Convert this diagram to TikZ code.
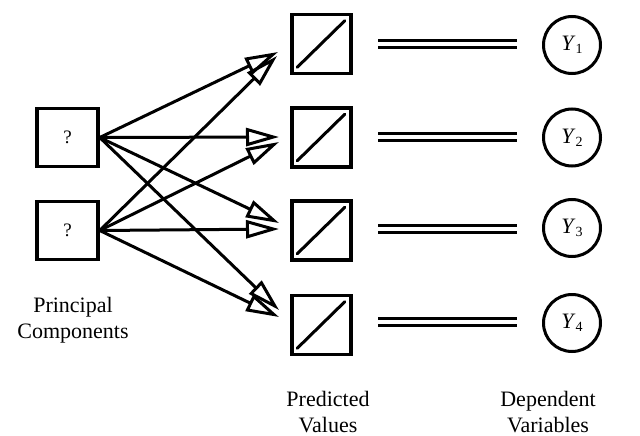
\documentclass[tikz,border=0pt]{standalone}
\usepackage{fontspec}
\setmainfont{Liberation Serif}
\usetikzlibrary{arrows.meta}
\begin{document}
\begin{tikzpicture}[x=1pt,y=-1pt,
  pcbox/.style={draw, line width=3.5pt, minimum width=61pt, minimum height=58pt, inner sep=0pt, font=\fontsize{19}{19}\selectfont},
  predbox/.style={draw, line width=3.5pt, minimum width=59pt, minimum height=59pt, inner sep=0pt},
  depvar/.style={draw, circle, line width=3pt, minimum size=57pt, inner sep=0pt, font=\fontsize{22}{22}\selectfont},
  arr/.style={line width=3pt, -{Triangle[open, length=33pt, width=18pt, line width=3pt]}},
  dbl/.style={double, line width=3pt, double distance=4.5pt},
  lbl/.style={align=center, font=\fontsize{22}{26}\selectfont}
]
\useasboundingbox (0,0) rectangle (640,436);
\node[pcbox] (pc1) at (67.5,137.5) {?};
\node[pcbox] (pc2) at (67.5,230.5) {?};
\foreach \i/\y in {1/44,2/137.5,3/230.5,4/325}{
  \node[predbox] (p\i) at (321.5,\y) {};
  \draw[line width=3pt, line cap=round] ([shift={(7,-8)}]p\i.south west) -- ([shift={(-8,8)}]p\i.north east);
}
\node[depvar] (y1) at (572,45) {\textit{Y}\raisebox{-3pt}{\fontsize{14}{14}\selectfont 1}};
\node[depvar] (y2) at (572,137.5) {\textit{Y}\raisebox{-3pt}{\fontsize{14}{14}\selectfont 2}};
\node[depvar] (y3) at (572,228) {\textit{Y}\raisebox{-3pt}{\fontsize{14}{14}\selectfont 3}};
\node[depvar] (y4) at (572,323) {\textit{Y}\raisebox{-3pt}{\fontsize{14}{14}\selectfont 4}};
\coordinate (t11) at (278,52);
\coordinate (t21) at (277,56);
\coordinate (t12) at (279,137);
\coordinate (t22) at (279,142);
\coordinate (t13) at (279,223);
\coordinate (t23) at (279,229);
\coordinate (t14) at (279,310);
\coordinate (t24) at (279,317);
\foreach \j in {1,2,3,4}{
  \draw[arr] (pc1.east) -- (t1\j);
  \draw[arr] (pc2.east) -- (t2\j);
}
\draw[dbl] (378,44) -- (517,44);
\draw[dbl] (378,137) -- (517,137);
\draw[dbl] (378,229) -- (517,229);
\draw[dbl] (378,322) -- (517,322);
\node[lbl] (lpc) at (73,320) {Principal\\Components};
\node[lbl] (lpv) at (328,412) {Predicted\\Values};
\node[lbl] (ldv) at (548,412) {Dependent\\Variables};
\end{tikzpicture}
\end{document}
